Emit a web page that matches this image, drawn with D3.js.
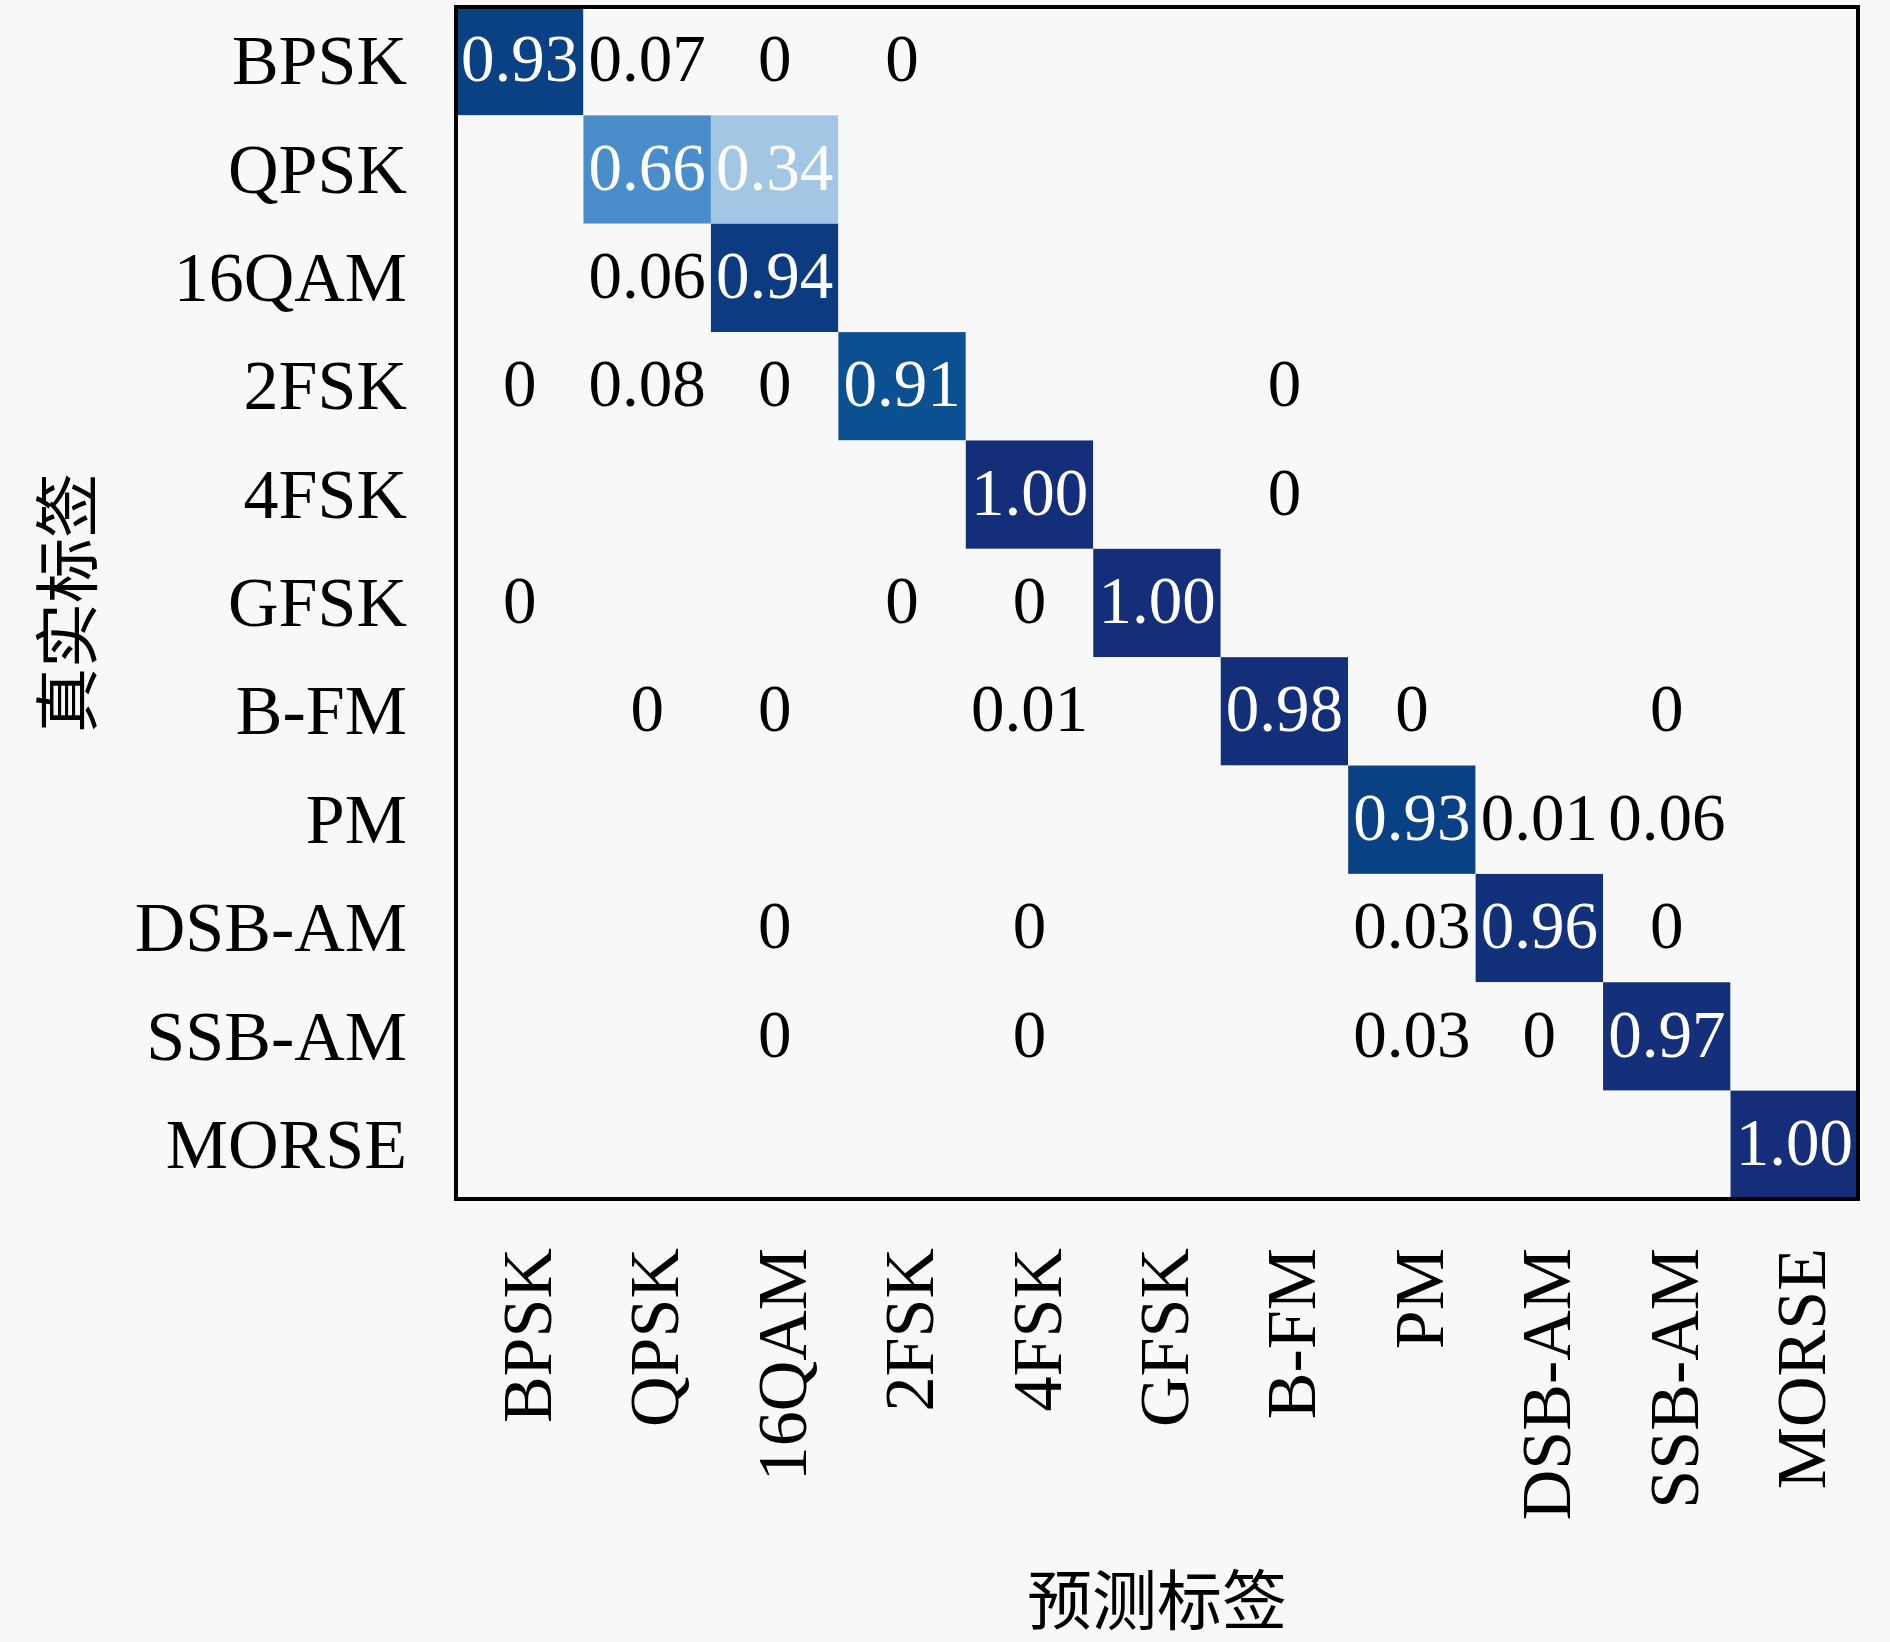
<!DOCTYPE html>
<html>
<head>
<meta charset="utf-8">
<script src="https://cdn.jsdelivr.net/npm/d3@7"></script>
<style>
  html, body { margin: 0; padding: 0; background: #f8f8f8; }
  svg { display: block; }
  .tick-label { font-family: "Liberation Serif", "DejaVu Serif", serif; font-size: 70px; fill: #000; }
  .cell-text { font-family: "Liberation Serif", "DejaVu Serif", serif; font-size: 67px; text-anchor: middle; }
  .axis-title { font-family: "Noto Sans CJK SC", sans-serif; font-size: 65px; fill: #000; }
</style>
</head>
<body>
<script>
const WIDTH = 1890;
const HEIGHT = 1642;

// class names, same order for true and predicted labels
const classes = ['BPSK', 'QPSK', '16QAM', '2FSK', '4FSK', 'GFSK', 'B-FM', 'PM', 'DSB-AM', 'SSB-AM', 'MORSE'];

// rows = true label, columns = predicted label; null = blank cell, 0 = shown as "0"
const rowBPSK  = [0.93, 0.07, 0,    0,    null, null, null, null, null, null, null];
const rowQPSK  = [null, 0.66, 0.34, null, null, null, null, null, null, null, null];
const row16QAM = [null, 0.06, 0.94, null, null, null, null, null, null, null, null];
const row2FSK  = [0,    0.08, 0,    0.91, null, null, 0,    null, null, null, null];
const row4FSK  = [null, null, null, null, 1.00, null, 0,    null, null, null, null];
const rowGFSK  = [0,    null, null, 0,    0,    1.00, null, null, null, null, null];
const rowBFM   = [null, 0,    0,    null, 0.01, null, 0.98, 0,    null, 0,    null];
const rowPM    = [null, null, null, null, null, null, null, 0.93, 0.01, 0.06, null];
const rowDSBAM = [null, null, 0,    null, 0,    null, null, 0.03, 0.96, 0,    null];
const rowSSBAM = [null, null, 0,    null, 0,    null, null, 0.03, 0,    0.97, null];
const rowMORSE = [null, null, null, null, null, null, null, null, null, null, 1.00];

const matrix = [rowBPSK, rowQPSK, row16QAM, row2FSK, row4FSK, rowGFSK, rowBFM, rowPM, rowDSBAM, rowSSBAM, rowMORSE];

// colour stops (a Blues-like map)
const colorStops = [0, 0.1, 0.34, 0.66, 0.91, 0.93, 0.96, 1];
const colorValues = ['#f8f8f8', '#f8f8f8', '#a3c6e4', '#4a8dcb', '#0b5192', '#0a4184', '#13307a', '#152e7a'];

const xLabel = '预测标签';
const yLabel = '真实标签';

const plot = { left: 456, right: 1858, top: 7, bottom: 1199 };

const svg = d3.select('body').append('svg')
  .attr('width', WIDTH)
  .attr('height', HEIGHT);

const x = d3.scaleBand().domain(classes).range([plot.left, plot.right]);
const y = d3.scaleBand().domain(classes).range([plot.top, plot.bottom]);
const color = d3.scaleLinear().domain(colorStops).range(colorValues).clamp(true);

const cells = matrix.flatMap((row, i) =>
  row.map((value, j) => ({ trueLabel: classes[i], predLabel: classes[j], value }))
);

svg.selectAll('.cell')
  .data(cells)
  .join('rect')
  .attr('class', 'cell')
  .attr('x', d => x(d.predLabel))
  .attr('y', d => y(d.trueLabel))
  .attr('width', x.bandwidth())
  .attr('height', y.bandwidth())
  .attr('fill', d => color(d.value ?? 0));

svg.selectAll('.cell-text')
  .data(cells.filter(d => d.value !== null))
  .join('text')
  .attr('class', 'cell-text')
  .attr('x', d => x(d.predLabel) + x.bandwidth() / 2)
  .attr('y', d => y(d.trueLabel) + y.bandwidth() / 2)
  .attr('dy', '0.3em')
  .attr('fill', d => d.value > 0.3 ? '#ffffff' : '#000000')
  .text(d => d.value === 0 ? '0' : d.value.toFixed(2));

// frame
svg.append('rect')
  .attr('x', plot.left)
  .attr('y', plot.top)
  .attr('width', plot.right - plot.left)
  .attr('height', plot.bottom - plot.top)
  .attr('fill', 'none')
  .attr('stroke', '#000')
  .attr('stroke-width', 4);

// y tick labels
svg.selectAll('.y-tick')
  .data(classes)
  .join('text')
  .attr('class', 'tick-label y-tick')
  .attr('x', 407)
  .attr('y', d => y(d) + y.bandwidth() / 2)
  .attr('dy', '0.33em')
  .attr('text-anchor', 'end')
  .text(d => d);

// x tick labels, rotated
svg.selectAll('.x-tick')
  .data(classes)
  .join('text')
  .attr('class', 'tick-label x-tick')
  .attr('text-anchor', 'end')
  .attr('transform', d => `translate(${x(d) + x.bandwidth() / 2 + 31},1248) rotate(-90)`)
  .text(d => d);

svg.append('text')
  .attr('class', 'axis-title')
  .attr('text-anchor', 'middle')
  .attr('dominant-baseline', 'central')
  .attr('transform', 'translate(63,603) rotate(-90)')
  .text(yLabel);

svg.append('text')
  .attr('class', 'axis-title')
  .attr('text-anchor', 'middle')
  .attr('dominant-baseline', 'central')
  .attr('x', 1157)
  .attr('y', 1596)
  .text(xLabel);
</script>
</body>
</html>
